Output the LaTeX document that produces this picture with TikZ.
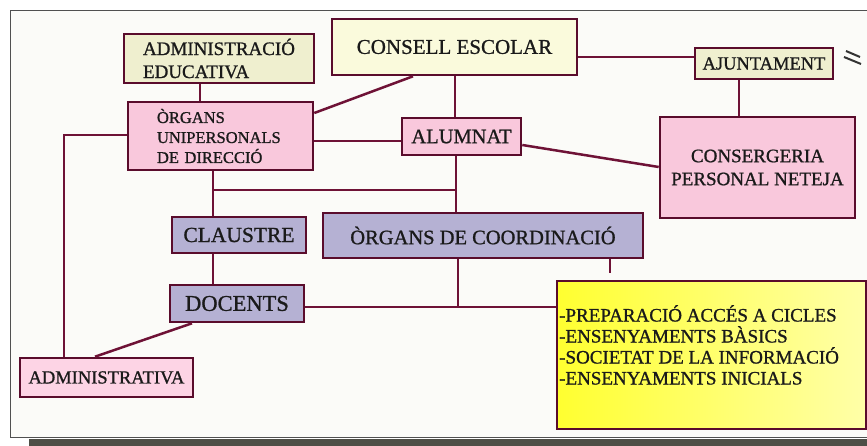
\documentclass[tikz,border=0pt]{standalone}
\usepackage{fontspec}
\setmainfont{Liberation Serif}[FakeBold=1]
\definecolor{bordc}{HTML}{5A0C2C}
\definecolor{linec}{HTML}{6E1236}
\definecolor{creamA}{HTML}{EFEFCF}
\definecolor{creamB}{HTML}{FAFADC}
\definecolor{pinkA}{HTML}{F9C8DC}
\definecolor{pinkB}{HTML}{FDD4E5}
\definecolor{lav}{HTML}{B5B1D3}
\definecolor{paper}{HTML}{FBFBF8}
\definecolor{shadowc}{HTML}{4E4E46}
\definecolor{framec}{HTML}{505050}
\definecolor{yelA}{HTML}{FFFF30}
\definecolor{yelB}{HTML}{FFFFA8}
\definecolor{inkc}{HTML}{1A1A1A}
\begin{document}
\begin{tikzpicture}[x=1pt,y=-1pt,
  box/.style={draw=bordc, line width=2.6pt, inner sep=0pt, text=inkc},
  conn/.style={draw=linec, line width=2.5pt},
  fs/.style={font=\fontsize{#1}{#1}\selectfont}]
\useasboundingbox (0,0) rectangle (867,446);
\fill[shadowc] (29,439) rectangle (870,447);
\draw[framec, line width=1.4pt, fill=paper] (10.5,10.5) rectangle (880,437.5);

% nodes
\node[box, fill=creamA, minimum width=190pt, minimum height=49pt, align=left,
      font=\fontsize{19}{23}\selectfont] (admedu) at (219,58.5) {ADMINISTRACIÓ\\EDUCATIVA};
\node[box, fill=creamB, minimum width=245pt, minimum height=56pt, fs=21] (consell) at (454.5,47) {CONSELL ESCOLAR};
\node[box, fill=creamA, minimum width=138pt, minimum height=31pt, fs=18.5] (ajun) at (764,63.5) {AJUNTAMENT};
\node[box, fill=pinkA, minimum width=185pt, minimum height=68pt, align=left, text width=127pt,
      font=\fontsize{16.5}{20}\selectfont] (unip) at (220.5,136) {ÒRGANS\\UNIPERSONALS\\DE DIRECCIÓ};
\node[box, fill=pinkA, minimum width=119pt, minimum height=37pt, fs=20.5] (alum) at (461.5,136.5) {ALUMNAT};
\node[box, fill=pinkA, minimum width=195pt, minimum height=101pt, align=center,
      font=\fontsize{19}{23}\selectfont] (cons) at (757.5,167.5) {CONSERGERIA\\PERSONAL NETEJA};
\node[box, fill=lav, minimum width=134pt, minimum height=36pt, fs=21.5] (claus) at (239,235) {CLAUSTRE};
\node[box, fill=lav, minimum width=320pt, minimum height=45pt, fs=20.5] (coord) at (483,235.5) {ÒRGANS DE COORDINACIÓ};
\node[box, fill=lav, minimum width=134pt, minimum height=37pt, fs=22.5] (doc) at (237,303.5) {DOCENTS};
\node[box, fill=pinkB, minimum width=173pt, minimum height=39pt, fs=18.5] (adminv) at (106.5,377.5) {ADMINISTRATIVA};
\node[box, left color=yelA, right color=yelB, minimum width=309pt, minimum height=148pt] (yel) at (711.5,355) {};
\node[anchor=north west, align=left, inner sep=0pt, text=inkc,
      font=\fontsize{19}{21}\selectfont] (yeltxt) at (559,305)
  {-PREPARACIÓ ACCÉS A CICLES\\-ENSENYAMENTS BÀSICS\\-SOCIETAT DE LA INFORMACIÓ\\-ENSENYAMENTS INICIALS};

% junction coordinates
\coordinate (j1) at (213,190);
\coordinate (j2) at (456,190);
\coordinate (j3) at (458,307);
\coordinate (stub) at (610,273);
\coordinate (bend) at (64,135);

% connectors
\draw[conn] (200,0 |- admedu.south) -- (200,0 |- unip.north);
\draw[conn] (413,0 |- consell.south) -- (unip.east |- 0,113);
\draw[conn] (unip.east |- 0,141) -- (alum.west |- 0,141);
\draw[conn] (unip.west |- bend) -- (bend) -- (bend |- adminv.north);
\draw[conn] (213,0 |- unip.south) -- (213,0 |- claus.north);
\draw[conn] (j1) -- (j2);
\draw[conn] (455,0 |- consell.south) -- (455,0 |- alum.north);
\draw[conn] (456,0 |- alum.south) -- (456,0 |- coord.north);
\draw[conn] (consell.east |- 0,57) -- (ajun.west |- 0,57);
\draw[conn] (739,0 |- ajun.south) -- (739,0 |- cons.north);
\draw[conn] (alum.east |- 0,145) -- (cons.west |- 0,167);
\draw[conn] (213,0 |- claus.south) -- (213,0 |- doc.north);
\draw[conn] (doc.east |- j3) -- (yel.west |- j3);
\draw[conn] (j3 |- coord.south) -- (j3);
\draw[conn] (stub |- coord.south) -- (stub);
\draw[conn] (192,0 |- doc.south) -- (95,0 |- adminv.north);

% small mark at top right
\draw[black!80, line width=2pt] (846,51) -- (860,57);
\draw[black!80, line width=2pt] (844,57) -- (861,64);
\end{tikzpicture}
\end{document}
